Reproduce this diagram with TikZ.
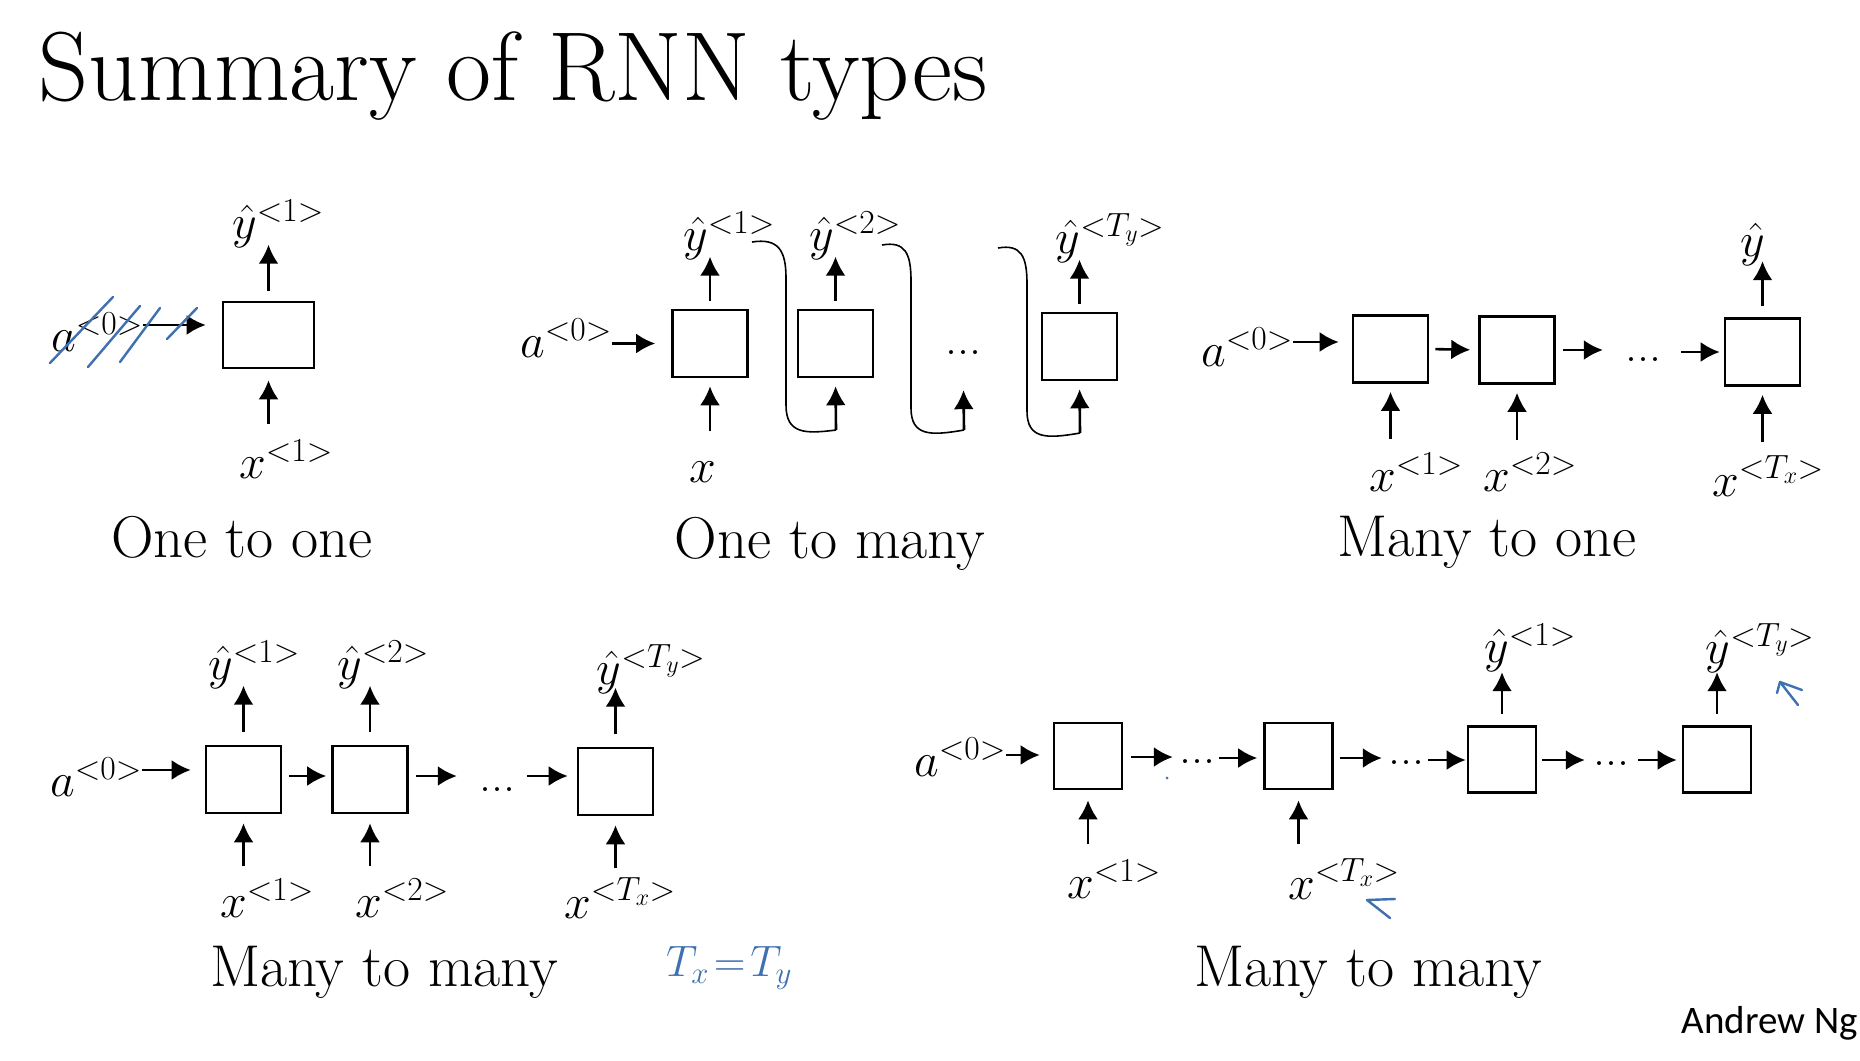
\RequirePackage{fix-cm}
\documentclass[tikz,border=0pt]{standalone}
\usepackage{fontspec}
\newfontfamily\ngfont{Carlito}
\usetikzlibrary{arrows.meta}

\definecolor{inkblue}{RGB}{62,112,178}

\tikzset{
    cell/.style={draw, line width=2.6pt, minimum width=75pt, minimum height=67pt, inner sep=0pt},
    arr/.style={-{Latex[length=19pt,width=20pt]}, line width=2.6pt},
    lbl/.style={inner sep=0pt, font=\fontsize{48}{52}\selectfont},
    dots/.style={inner sep=0pt, font=\fontsize{48}{52}\selectfont},
    caption/.style={inner sep=0pt, anchor=base, font=\fontsize{59}{64}\selectfont},
    loopline/.style={line width=1.6pt},
    ink/.style={draw=inkblue, line width=2.4pt, line cap=round, line join=round},
}

\begin{document}
\begin{tikzpicture}[x=1pt, y=-1pt]
    \fill[white] (0,0) rectangle (1860,1060);
    \useasboundingbox (0,0) rectangle (1860,1060);

    \node[inner sep=0pt, anchor=base west, font=\fontsize{98}{100}\selectfont] at (38,100) (title) {Summary of RNN types};

    % one to one
    \node[cell, minimum width=91pt, minimum height=66pt] at (268.5,335) (b11) {};
    \node[lbl] at (278,224) (y11) {$\hat{y}^{<1>}$};
    \node[lbl] at (286,459) (x11) {$x^{<1>}$};
    \node[lbl] at (97,332) (a11) {$a^{<0>}$};
    \draw[arr, shorten <=10pt] (b11.north) -- ++(0,-56);
    \draw[arr, shorten >=11pt] (b11.south) ++(0,55) -- (b11.south);
    \draw[arr, shorten >=16pt] (a11.east |- 0,325) -- (b11.west |- 0,325);
    \node[caption] at (242,557) (c1) {One to one};
    \draw[ink] (50,363) -- (113,297);
    \draw[ink] (88,367) -- (140,306);
    \draw[ink] (120,362) -- (160,308);
    \draw[ink] (167,339) -- (197,308);

    % one to many
    \node[cell] at (710,343.5) (b21) {};
    \node[cell] at (835.5,343.5) (b22) {};
    \node[dots] at (963,353) (d21) {...};
    \node[cell] at (1079.5,346.5) (b23) {};
    \node[lbl] at (566,338) (a21) {$a^{<0>}$};
    \node[lbl] at (729,236) (y21) {$\hat{y}^{<1>}$};
    \node[lbl] at (855,236) (y22) {$\hat{y}^{<2>}$};
    \node[lbl] at (1110,238) (y23) {$\hat{y}^{<T_y>}$};
    \node[lbl] at (703,472) (x21) {$x$};
    \draw[arr, shorten >=16pt] (a21.east |- b21.west) -- (b21.west);
    \foreach \i in {1,2,3} {
        \draw[arr, shorten <=8pt] (b2\i.north) -- ++(0,-52);
    }
    \coordinate (t21) at (752,242);
    \coordinate (t22) at (882,245);
    \coordinate (t23) at (998,248);
    \coordinate (i22) at (836,430);
    \coordinate (i23) at (964,430);
    \coordinate (i24) at (1080,433);
    \draw[arr, shorten >=8pt] (b21.south) ++(0,53) -- (b21.south);
    \draw[arr, shorten >=8pt] (i22) -- (b22.south);
    \draw[arr, shorten >=35pt] (i23) -- (d21);
    \draw[arr, shorten >=8pt] (i24) -- (b23.south);
    \draw[loopline] (t21) .. controls (778,238) and (786,250) .. (786,278) -- (786,405)
        .. controls (786,434) and (805,434) .. (i22);
    \draw[loopline] (t22) .. controls (905,241) and (911,253) .. (911,281) -- (911,408)
        .. controls (911,436) and (930,436) .. (i23);
    \draw[loopline] (t23) .. controls (1021,244) and (1027,256) .. (1027,284) -- (1027,411)
        .. controls (1027,439) and (1046,439) .. (i24);
    \node[caption] at (830,558) (c2) {One to many};

    % many to one
    \node[cell] at (1390.5,349) (b31) {};
    \node[cell] at (1517,350) (b32) {};
    \node[dots] at (1643,360) (d31) {...};
    \node[cell] at (1762.5,352) (b33) {};
    \node[lbl] at (1247,347) (a31) {$a^{<0>}$};
    \node[lbl] at (1753,244) (y31) {$\hat{y}$};
    \node[lbl] at (1416,472) (x31) {$x^{<1>}$};
    \node[lbl] at (1530,472) (x32) {$x^{<2>}$};
    \node[lbl] at (1768,476) (x33) {$x^{<T_x>}$};
    \draw[arr, shorten >=13pt] (a31.east |- 0,342) -- (b31.west |- 0,342);
    \draw[arr, shorten <=6pt, shorten >=8pt] (b31.east) -- (b32.west);
    \draw[arr, shorten <=7pt, shorten >=22pt] (b32.east) -- (d31.west |- b32.east);
    \draw[arr, shorten <=20pt, shorten >=4pt] (d31.east |- b33.west) -- (b33.west);
    \draw[arr, shorten <=11pt] (b33.north) -- ++(0,-56);
    \foreach \i in {1,2,3} {
        \draw[arr, shorten >=8pt] (b3\i.south) ++(0,55) -- (b3\i.south);
    }
    \node[caption] at (1487,556) (c3) {Many to one};

    % many to many, same length
    \node[cell] at (243.5,779.5) (b41) {};
    \node[cell] at (370,779.5) (b42) {};
    \node[dots] at (497,790) (d41) {...};
    \node[cell] at (615.5,781.5) (b43) {};
    \node[lbl] at (96,777) (a41) {$a^{<0>}$};
    \node[lbl] at (254,665) (y41) {$\hat{y}^{<1>}$};
    \node[lbl] at (383,665) (y42) {$\hat{y}^{<2>}$};
    \node[lbl] at (651,669) (y43) {$\hat{y}^{<T_y>}$};
    \node[lbl] at (267,898) (x41) {$x^{<1>}$};
    \node[lbl] at (402,898) (x42) {$x^{<2>}$};
    \node[lbl] at (620,898) (x43) {$x^{<T_x>}$};
    \draw[arr, shorten >=14pt] (a41.east |- 0,770) -- (b41.west |- 0,770);
    \draw[arr, shorten <=7pt, shorten >=5pt] (b41.east |- 0,776) -- (b42.west |- 0,776);
    \draw[arr, shorten <=7pt, shorten >=22pt] (b42.east |- 0,776) -- (d41.west |- 0,776);
    \draw[arr, shorten <=12pt, shorten >=9pt] (d41.east |- 0,776) -- (b43.west |- 0,776);
    \foreach \i in {1,2,3} {
        \draw[arr, shorten <=13pt] (b4\i.north) -- ++(0,-59);
        \draw[arr, shorten >=9pt] (b4\i.south) ++(0,52) -- (b4\i.south);
    }
    \node[caption] at (384,986) (c4) {Many to many};
    \node[inner sep=0pt, text=inkblue, font=\fontsize{44}{48}\selectfont] at (729,968) (eq) {$T_x\!=\!T_y$};

    % many to many, other lengths
    \node[cell, minimum width=68pt, minimum height=66pt] at (1088,756) (b51) {};
    \node[dots] at (1197,762) (d51) {...};
    \node[cell, minimum width=68pt, minimum height=66pt] at (1298.5,756) (b52) {};
    \node[dots] at (1406,763) (d52) {...};
    \node[cell, minimum width=68pt, minimum height=66pt] at (1502,759.5) (b53) {};
    \node[dots] at (1611,764) (d53) {...};
    \node[cell, minimum width=68pt, minimum height=66pt] at (1717,759.5) (b54) {};
    \node[lbl] at (960,757) (a51) {$a^{<0>}$};
    \node[lbl] at (1530,648) (y53) {$\hat{y}^{<1>}$};
    \node[lbl] at (1760,648) (y54) {$\hat{y}^{<T_y>}$};
    \node[lbl] at (1114,879) (x51) {$x^{<1>}$};
    \node[lbl] at (1344,879) (x52) {$x^{<T_x>}$};
    \draw[arr, shorten >=13pt] (a51.east |- 0,755) -- (b51.west |- 0,755);
    \draw[arr, shorten <=8pt, shorten >=6pt] (b51.east |- 0,757) -- (d51.west |- 0,757);
    \draw[arr, shorten <=4pt, shorten >=6pt] (d51.east |- 0,758) -- (b52.west |- 0,758);
    \draw[arr, shorten <=6pt, shorten >=6pt] (b52.east |- 0,758) -- (d52.west |- 0,758);
    \draw[arr, shorten <=4pt, shorten >=1pt] (d52.east |- 0,760) -- (b53.west |- 0,760);
    \draw[arr, shorten <=5pt, shorten >=8pt] (b53.east |- 0,760) -- (d53.west |- 0,760);
    \draw[arr, shorten <=9pt, shorten >=5pt] (d53.east |- 0,760) -- (b54.west |- 0,760);
    \draw[arr, shorten <=11pt] (b53.north) -- ++(0,-53);
    \draw[arr, shorten <=11pt] (b54.north) -- ++(0,-53);
    \draw[arr, shorten >=10pt] (b51.south) ++(0,54) -- (b51.south);
    \draw[arr, shorten >=10pt] (b52.south) ++(0,54) -- (b52.south);
    \node[caption] at (1368,986) (c5) {Many to many};
    \draw[ink] (1798,705) -- (1780,682) -- (1802,690);
    \draw[ink] (1780,682) -- (1777,693);
    \draw[ink] (1390,918) -- (1367,900) -- (1395,899);
    \fill[inkblue] (1167,778) circle (1.5);

    \node[inner sep=0pt, anchor=base east, font=\ngfont\fontsize{39}{44}\selectfont] at (1858,1033) (ng) {Andrew Ng};
\end{tikzpicture}
\end{document}
